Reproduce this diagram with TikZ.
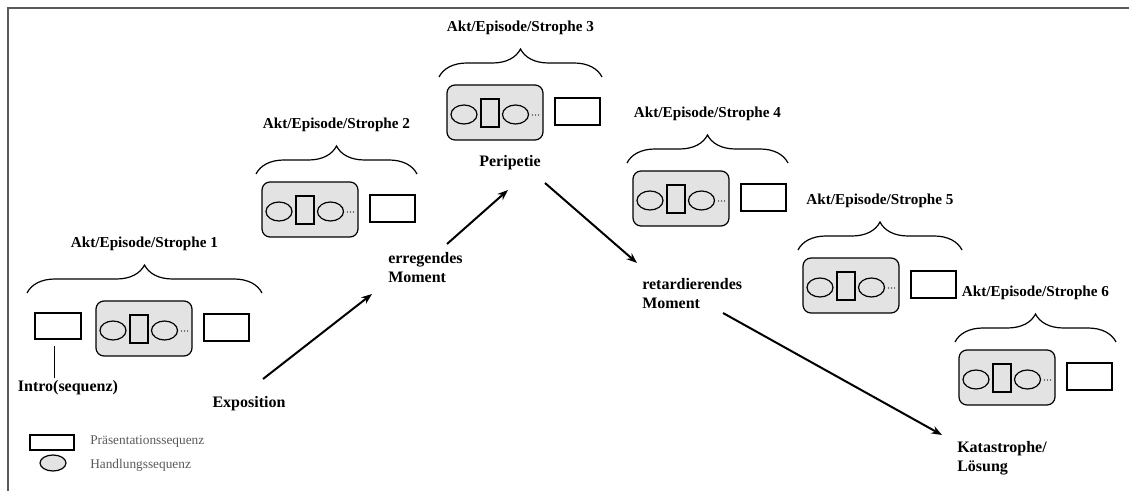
\documentclass[tikz,border=0pt]{standalone}
\usepackage{fontspec}
\setmainfont{Liberation Serif}
\usetikzlibrary{arrows.meta,decorations.pathreplacing}
\tikzset{
  handbox/.style={draw, line width=0.9pt, fill=black!11, rounded corners=6pt},
  pres/.style={draw, line width=0.9pt, fill=white},
  hand/.style={draw, line width=0.9pt},
  bracestyle/.style={draw, line width=0.9pt, decorate, decoration={brace, amplitude=21pt, aspect=0.5}},
  aktlabel/.style={font=\fontsize{11.4}{13}\selectfont\bfseries, inner sep=0pt},
  phase/.style={font=\fontsize{12}{14.5}\selectfont\bfseries, inner sep=0pt, align=left},
  legendtext/.style={font=\fontsize{10}{12}\selectfont, text=black!65, inner sep=0pt, anchor=west},
  flow/.style={line width=1.5pt, -{Stealth[length=8pt,width=6pt]}},
  frame/.style={draw=black!65, line width=1.5pt}
}
\newcommand\aktgroup[5]{%
  \begin{scope}[shift={(#1,#2)}]
    \draw[handbox] (0,0) rectangle (96,55);
    \draw[hand] (17,29.5) ellipse [x radius=13, y radius=9.5];
    \draw[hand] (34,14) rectangle (52,42);
    \draw[hand] (68.5,29.5) ellipse [x radius=13, y radius=9.5];
    \fill (85.5,30) circle [radius=0.7];
    \fill (88.5,30) circle [radius=0.7];
    \fill (91.5,30) circle [radius=0.7];
    \draw[pres] (108,13) rectangle (153,40);
  \end{scope}
  \draw[bracestyle] ({#4},{#2-8}) -- ({#5},{#2-8});
  \node[aktlabel] (akt#3) at ({(#4+#5)/2},{#2-57}) {Akt/Episode/Strophe #3};
}
\begin{document}
\begin{tikzpicture}[x=0.75pt,y=-0.75pt]
\useasboundingbox (0,0) rectangle (1129,491);
% frame
\draw[frame] (7.5,491) -- (7.5,8) -- (1129,8);
% groups
\aktgroup{96}{301}{1}{27}{262}
\draw[pres] (35,313) rectangle (81,339);
\aktgroup{262}{182}{2}{256}{417}
\aktgroup{447}{85}{3}{439}{602}
\aktgroup{633}{171}{4}{627}{788}
\aktgroup{803}{258}{5}{798}{962}
\aktgroup{959}{350}{6}{955}{1116}
% intro
\node[phase] (intro) at (68,388) {Intro(sequenz)};
\coordinate (introtop) at (54,346);
\draw[line width=0.6pt] (introtop) -- ([yshift=2pt]intro.north -| introtop);
% phases
\node[phase] (expo) at (249,404) {Exposition};
\node[phase, anchor=north west] (erreg) at (388,252) {erregendes\\Moment};
\node[phase] (peri) at (510,163) {Peripetie};
\node[phase, anchor=north west] (retard) at (642,278) {retardierendes\\Moment};
\node[phase, anchor=north west] (kata) at (957,441) {Katastrophe/\\Lösung};
% arrows
\coordinate (a1s) at (263,379);
\coordinate (a1e) at (372,294);
\coordinate (a2s) at (447,244);
\coordinate (a2e) at (508,190);
\coordinate (a3s) at (545,183);
\coordinate (a3e) at (637,263);
\coordinate (a4s) at (723,313);
\coordinate (a4e) at (942,435);
\draw[flow] (a1s) -- (a1e);
\draw[flow] (a2s) -- (a2e);
\draw[flow] (a3s) -- (a3e);
\draw[flow] (a4s) -- (a4e);
% legend
\draw[pres] (30,435) rectangle (74,450);
\draw[hand, fill=black!11] (53,463) ellipse [x radius=13, y radius=8];
\node[legendtext] (lp) at (90,442) {Präsentationssequenz};
\node[legendtext] (lh) at (90,465) {Handlungssequenz};
\end{tikzpicture}
\end{document}
